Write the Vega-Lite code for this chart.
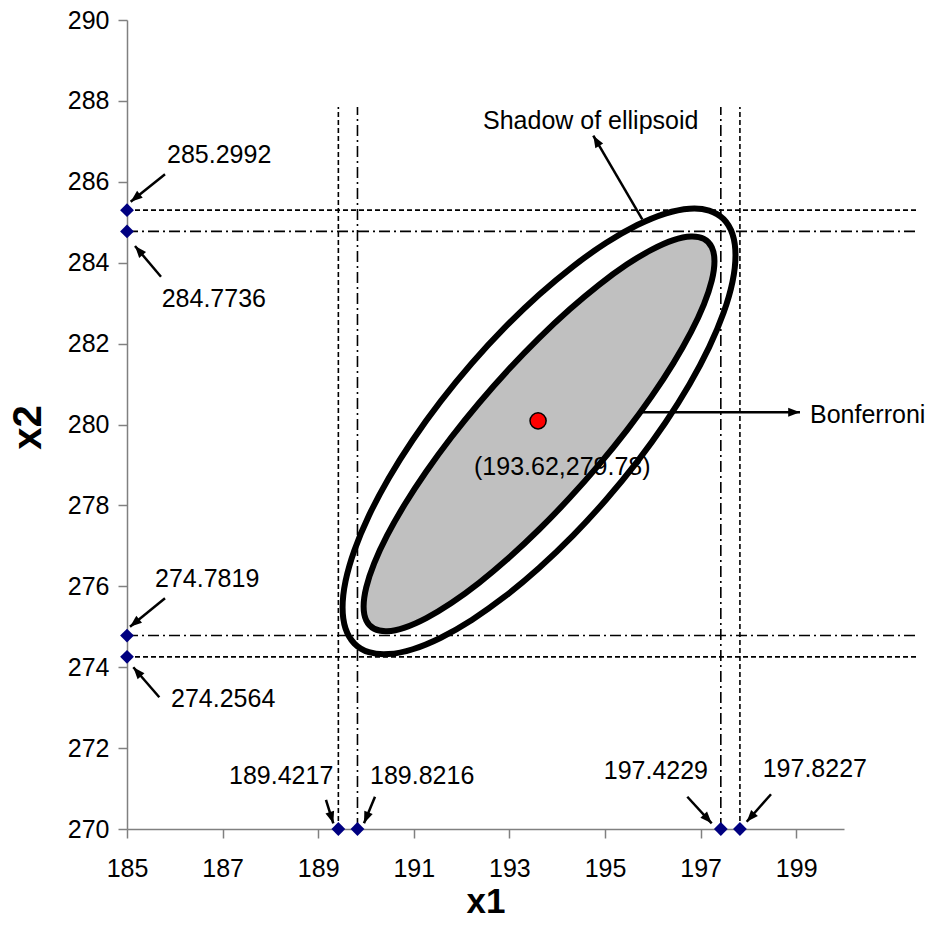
{
  "$schema": "https://vega.github.io/schema/vega-lite/v6.json",
  "width": 717,
  "height": 809,
  "autosize": {"type": "none"},
  "padding": {"left": 127, "top": 20, "right": 86, "bottom": 96},
  "background": "white",
  "config": {"view": {"stroke": null}, "font": "Liberation Sans"},
  "datasets": {
    "dashed": [
      {"x": 185, "x2": 201.55, "y": 285.2992, "y2": 285.2992},
      {"x": 185, "x2": 201.55, "y": 274.2564, "y2": 274.2564},
      {"x": 189.4217, "x2": 189.4217, "y": 270, "y2": 287.85},
      {"x": 197.8227, "x2": 197.8227, "y": 270, "y2": 287.85}
    ],
    "dashdot": [
      {"x": 185, "x2": 201.55, "y": 284.7736, "y2": 284.7736},
      {"x": 185, "x2": 201.55, "y": 274.7819, "y2": 274.7819},
      {"x": 189.8216, "x2": 189.8216, "y": 270, "y2": 287.85},
      {"x": 197.4229, "x2": 197.4229, "y": 270, "y2": 287.85}
    ],
    "outer": [
      {"i": 0, "x": 197.730, "y": 284.184},
      {"i": 1, "x": 197.668, "y": 284.704},
      {"i": 2, "x": 197.482, "y": 285.076},
      {"i": 3, "x": 197.179, "y": 285.290},
      {"i": 4, "x": 196.768, "y": 285.336},
      {"i": 5, "x": 196.262, "y": 285.216},
      {"i": 6, "x": 195.675, "y": 284.931},
      {"i": 7, "x": 195.026, "y": 284.492},
      {"i": 8, "x": 194.334, "y": 283.912},
      {"i": 9, "x": 193.620, "y": 283.207},
      {"i": 10, "x": 192.906, "y": 282.400},
      {"i": 11, "x": 192.214, "y": 281.514},
      {"i": 12, "x": 191.565, "y": 280.577},
      {"i": 13, "x": 190.978, "y": 279.618},
      {"i": 14, "x": 190.472, "y": 278.666},
      {"i": 15, "x": 190.061, "y": 277.748},
      {"i": 16, "x": 189.758, "y": 276.894},
      {"i": 17, "x": 189.572, "y": 276.128},
      {"i": 18, "x": 189.510, "y": 275.476},
      {"i": 19, "x": 189.572, "y": 274.956},
      {"i": 20, "x": 189.758, "y": 274.584},
      {"i": 21, "x": 190.061, "y": 274.370},
      {"i": 22, "x": 190.472, "y": 274.324},
      {"i": 23, "x": 190.978, "y": 274.444},
      {"i": 24, "x": 191.565, "y": 274.729},
      {"i": 25, "x": 192.214, "y": 275.168},
      {"i": 26, "x": 192.906, "y": 275.748},
      {"i": 27, "x": 193.620, "y": 276.453},
      {"i": 28, "x": 194.334, "y": 277.260},
      {"i": 29, "x": 195.026, "y": 278.146},
      {"i": 30, "x": 195.675, "y": 279.083},
      {"i": 31, "x": 196.262, "y": 280.042},
      {"i": 32, "x": 196.768, "y": 280.994},
      {"i": 33, "x": 197.179, "y": 281.912},
      {"i": 34, "x": 197.482, "y": 282.766},
      {"i": 35, "x": 197.668, "y": 283.532}
    ],
    "inner": [
      {"i": 0, "x": 197.290, "y": 284.038},
      {"i": 1, "x": 197.234, "y": 284.384},
      {"i": 2, "x": 197.069, "y": 284.590},
      {"i": 3, "x": 196.798, "y": 284.649},
      {"i": 4, "x": 196.431, "y": 284.560},
      {"i": 5, "x": 195.979, "y": 284.325},
      {"i": 6, "x": 195.455, "y": 283.953},
      {"i": 7, "x": 194.875, "y": 283.453},
      {"i": 8, "x": 194.257, "y": 282.841},
      {"i": 9, "x": 193.620, "y": 282.136},
      {"i": 10, "x": 192.983, "y": 281.359},
      {"i": 11, "x": 192.365, "y": 280.533},
      {"i": 12, "x": 191.785, "y": 279.685},
      {"i": 13, "x": 191.261, "y": 278.839},
      {"i": 14, "x": 190.809, "y": 278.022},
      {"i": 15, "x": 190.442, "y": 277.257},
      {"i": 16, "x": 190.171, "y": 276.568},
      {"i": 17, "x": 190.006, "y": 275.978},
      {"i": 18, "x": 189.950, "y": 275.502},
      {"i": 19, "x": 190.006, "y": 275.156},
      {"i": 20, "x": 190.171, "y": 274.950},
      {"i": 21, "x": 190.442, "y": 274.891},
      {"i": 22, "x": 190.809, "y": 274.980},
      {"i": 23, "x": 191.261, "y": 275.215},
      {"i": 24, "x": 191.785, "y": 275.587},
      {"i": 25, "x": 192.365, "y": 276.087},
      {"i": 26, "x": 192.983, "y": 276.699},
      {"i": 27, "x": 193.620, "y": 277.404},
      {"i": 28, "x": 194.257, "y": 278.181},
      {"i": 29, "x": 194.875, "y": 279.007},
      {"i": 30, "x": 195.455, "y": 279.855},
      {"i": 31, "x": 195.979, "y": 280.701},
      {"i": 32, "x": 196.431, "y": 281.518},
      {"i": 33, "x": 196.798, "y": 282.283},
      {"i": 34, "x": 197.069, "y": 282.972},
      {"i": 35, "x": 197.234, "y": 283.562}
    ],
    "arrows": [
      {"x": 185.795, "y": 286.185, "x2": 185.077, "y2": 285.508},
      {"x": 185.711, "y": 283.654, "x2": 185.167, "y2": 284.413},
      {"x": 185.795, "y": 275.703, "x2": 185.063, "y2": 275.001},
      {"x": 185.676, "y": 273.256, "x2": 185.132, "y2": 273.998},
      {"x": 189.163, "y": 270.717, "x2": 189.316, "y2": 270.141},
      {"x": 190.188, "y": 270.798, "x2": 189.958, "y2": 270.141},
      {"x": 196.722, "y": 270.798, "x2": 197.232, "y2": 270.141},
      {"x": 198.473, "y": 270.858, "x2": 197.964, "y2": 270.180},
      {"x": 195.780, "y": 285.073, "x2": 194.755, "y2": 287.140},
      {"x": 195.732, "y": 280.301, "x2": 199.079, "y2": 280.301}
    ],
    "heads": [
      {"x": 185.077, "y": 285.508, "heading": 231.4},
      {"x": 185.167, "y": 284.413, "heading": 319.7},
      {"x": 185.063, "y": 275.001, "heading": 230.9},
      {"x": 185.132, "y": 273.998, "heading": 319.1},
      {"x": 189.316, "y": 270.141, "heading": 162.6},
      {"x": 189.958, "y": 270.141, "heading": 202.5},
      {"x": 197.232, "y": 270.141, "heading": 137.5},
      {"x": 197.964, "y": 270.180, "heading": 221.6},
      {"x": 194.755, "y": 287.140, "heading": 329.6},
      {"x": 199.079, "y": 280.301, "heading": 90}
    ],
    "diamonds": [
      {"x": 185, "y": 285.2992},
      {"x": 185, "y": 284.7736},
      {"x": 185, "y": 274.7819},
      {"x": 185, "y": 274.2564},
      {"x": 189.4217, "y": 270},
      {"x": 189.8216, "y": 270},
      {"x": 197.4229, "y": 270},
      {"x": 197.8227, "y": 270}
    ],
    "center": [
      {"x": 193.60, "y": 280.09}
    ],
    "textLeft": [
      {"x": 185.837, "y": 286.66, "label": "285.2992"},
      {"x": 185.726, "y": 283.10, "label": "284.7736"},
      {"x": 185.586, "y": 276.18, "label": "274.7819"},
      {"x": 185.921, "y": 273.21, "label": "274.2564"},
      {"x": 190.084, "y": 271.31, "label": "189.8216"},
      {"x": 198.299, "y": 271.48, "label": "197.8227"},
      {"x": 192.448, "y": 287.50, "label": "Shadow of ellipsoid"},
      {"x": 199.289, "y": 280.23, "label": "Bonferroni"},
      {"x": 192.260, "y": 278.95, "label": "(193.62,279.78)"}
    ],
    "textRight": [
      {"x": 189.316, "y": 271.31, "label": "189.4217"},
      {"x": 197.155, "y": 271.43, "label": "197.4229"}
    ]
  },
  "encoding": {
    "x": {
      "field": "x",
      "type": "quantitative",
      "scale": {"domain": [185, 200], "nice": false, "zero": false},
      "axis": {
        "title": "x1",
        "values": [185, 187, 189, 191, 193, 195, 197, 199],
        "grid": false,
        "domainColor": "#808080",
        "domainWidth": 1.5,
        "tickColor": "#808080",
        "tickWidth": 1.5,
        "tickSize": 9,
        "labelFontSize": 25,
        "labelFont": "Liberation Sans",
        "labelColor": "black",
        "labelPadding": 18,
        "labelFlush": false,
        "labelOverlap": false,
        "titleFont": "Liberation Sans",
        "titleFontSize": 35,
        "titleFontWeight": "bold",
        "titleColor": "black",
        "titleY": 83,
        "titleBaseline": "alphabetic"
      }
    },
    "y": {
      "field": "y",
      "type": "quantitative",
      "scale": {"domain": [270, 290], "nice": false, "zero": false},
      "axis": {
        "title": "x2",
        "values": [270, 272, 274, 276, 278, 280, 282, 284, 286, 288, 290],
        "grid": false,
        "domainColor": "#808080",
        "domainWidth": 1.5,
        "tickColor": "#808080",
        "tickWidth": 1.5,
        "tickSize": 9,
        "labelFontSize": 25,
        "labelFont": "Liberation Sans",
        "labelColor": "black",
        "labelPadding": 9,
        "labelFlush": false,
        "labelOverlap": false,
        "titleFont": "Liberation Sans",
        "titleFontSize": 40,
        "titleFontWeight": "bold",
        "titleColor": "black",
        "titleAngle": -90,
        "titleX": -87,
        "titleY": 407,
        "titleAlign": "center",
        "titleBaseline": "alphabetic"
      }
    }
  },
  "layer": [
    {
      "data": {"name": "dashed"},
      "mark": {"type": "rule", "color": "black", "strokeWidth": 1.6, "strokeDash": [5, 3]},
      "encoding": {"x2": {"field": "x2"}, "y2": {"field": "y2"}}
    },
    {
      "data": {"name": "dashdot"},
      "mark": {"type": "rule", "color": "black", "strokeWidth": 1.6, "strokeDash": [11, 4, 2, 4]},
      "encoding": {"x2": {"field": "x2"}, "y2": {"field": "y2"}}
    },
    {
      "data": {"name": "outer"},
      "mark": {"type": "line", "interpolate": "cardinal-closed", "stroke": "black", "strokeWidth": 6},
      "encoding": {"order": {"field": "i", "type": "quantitative"}}
    },
    {
      "data": {"name": "inner"},
      "mark": {"type": "line", "interpolate": "cardinal-closed", "stroke": "black", "fill": "#c0c0c0", "strokeWidth": 6},
      "encoding": {"order": {"field": "i", "type": "quantitative"}}
    },
    {
      "data": {"name": "arrows"},
      "mark": {"type": "rule", "color": "black", "strokeWidth": 2.5},
      "encoding": {"x2": {"field": "x2"}, "y2": {"field": "y2"}}
    },
    {
      "data": {"name": "heads"},
      "mark": {"type": "point", "shape": "M0,0L-0.42,1.1L0.42,1.1Z", "filled": true, "color": "black", "size": 460, "opacity": 1},
      "encoding": {"angle": {"field": "heading", "type": "quantitative", "scale": null}}
    },
    {
      "data": {"name": "diamonds"},
      "mark": {"type": "point", "shape": "diamond", "filled": true, "color": "#000080", "size": 190, "opacity": 1}
    },
    {
      "data": {"name": "center"},
      "mark": {"type": "point", "shape": "circle", "filled": true, "fill": "#ff0000", "stroke": "black", "strokeWidth": 1.5, "size": 260, "opacity": 1}
    },
    {
      "data": {"name": "textLeft"},
      "mark": {"type": "text", "align": "left", "baseline": "middle", "font": "Liberation Sans", "fontSize": 25, "color": "black"},
      "encoding": {"text": {"field": "label"}}
    },
    {
      "data": {"name": "textRight"},
      "mark": {"type": "text", "align": "right", "baseline": "middle", "font": "Liberation Sans", "fontSize": 25, "color": "black"},
      "encoding": {"text": {"field": "label"}}
    }
  ]
}
